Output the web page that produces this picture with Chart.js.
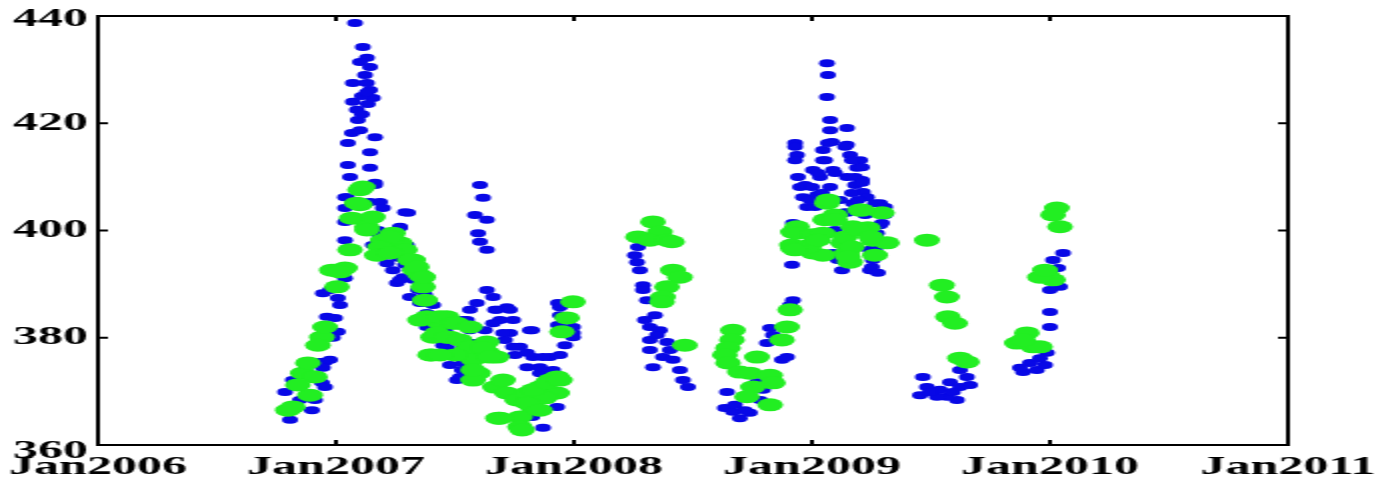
<!DOCTYPE html>
<html>
<head>
<meta charset="utf-8">
<script src="https://cdn.jsdelivr.net/npm/chart.js@4/dist/chart.umd.min.js"></script>
<style>
  html, body { margin: 0; padding: 0; background: #fff; overflow: hidden; }
  /* the figure is laid out at half width and stretched horizontally */
  #stage { width: 689px; height: 482px; transform: scaleX(2); transform-origin: 0 0; }
</style>
</head>
<body>
<div id="stage"><canvas id="c"></canvas></div>
<script>
// axis ticks
const xTickYears = [2006, 2007, 2008, 2009, 2010, 2011];
const yTickValues = [360, 380, 400, 420, 440];

// blue series: time as decimal year, value
const blueYear = [
  2006.807, 2006.786, 2006.819, 2006.933, 2006.954, 2006.945, 2006.899, 2006.941, 2006.954, 2007.017,
  2006.962, 2007.008, 2006.945, 2007.038, 2007.038, 2007.038, 2007.143, 2007.164, 2007.290, 2007.269,
  2006.849, 2006.870, 2006.832, 2006.912, 2006.975, 2006.987, 2006.996, 2007.008, 2006.975, 2007.080,
  2007.113, 2007.130, 2007.101, 2007.143, 2007.122, 2007.071, 2007.130, 2007.143, 2007.155, 2007.071,
  2007.088, 2007.092, 2007.067, 2007.164, 2007.050, 2007.143, 2007.050, 2007.143, 2007.059, 2007.164,
  2007.046, 2007.038, 2007.185, 2007.197, 2007.038, 2007.109, 2007.134, 2007.109, 2007.101, 2007.130,
  2007.214, 2007.239, 2007.282, 2007.256, 2007.324, 2007.311, 2007.366, 2007.408, 2007.382, 2007.450,
  2007.508, 2007.227, 2007.261, 2007.290, 2007.345, 2007.374, 2007.424, 2007.458, 2007.479, 2007.529,
  2007.218, 2007.176, 2007.303, 2007.605, 2007.618, 2007.584, 2007.634, 2007.597, 2007.605, 2007.634,
  2007.634, 2007.660, 2007.592, 2007.718, 2007.689, 2007.744, 2007.815, 2007.731, 2007.773, 2007.828,
  2007.899, 2007.941, 2007.803, 2007.857, 2007.912, 2007.563, 2007.521, 2007.592, 2007.466, 2007.550,
  2007.933, 2007.941, 2007.933, 2007.996, 2007.996, 2007.929, 2007.870, 2007.824, 2007.668, 2007.710,
  2007.752, 2007.626, 2007.563, 2007.878, 2007.962,
  2007.269, 2007.172, 2007.155, 2007.298, 2007.269, 2007.353, 2007.382, 2007.450, 2007.563, 2007.534,
  2007.534, 2007.676, 2007.731, 2007.660, 2007.702, 2007.824, 2007.534, 2007.576, 2007.744, 2007.803,
  2007.870, 2007.857, 2007.912, 2007.534, 2007.941, 2007.824, 2007.996,
  2008.269, 2008.265, 2008.277, 2008.290, 2008.290, 2008.307, 2008.340, 2008.319, 2008.361, 2008.319,
  2008.391, 2008.319, 2008.374, 2008.332, 2008.416, 2008.445, 2008.458, 2008.479, 2008.256, 2008.349,
  2008.298, 2008.403,
  2008.643, 2008.634, 2008.668, 2008.697, 2008.739, 2008.782, 2008.794, 2008.769, 2008.811, 2008.824,
  2008.811, 2008.874, 2008.895, 2008.920, 2008.676, 2008.718, 2008.836, 2008.908,
  2009.063, 2009.067, 2009.063, 2009.076, 2009.076, 2009.147, 2009.084, 2009.147, 2008.929, 2008.937,
  2009.046, 2009.046, 2009.160, 2009.202, 2009.004, 2009.088, 2009.189, 2008.941, 2009.034, 2009.147,
  2009.210, 2008.950, 2009.076, 2009.214, 2008.962, 2009.021, 2009.172, 2009.231, 2009.286, 2008.979,
  2009.147, 2009.286, 2008.920, 2009.273, 2009.088, 2009.126, 2009.244, 2009.256, 2008.916, 2008.992,
  2008.971, 2009.181, 2009.118, 2009.223, 2009.244, 2009.151, 2008.929, 2009.042, 2009.307,
  2008.929, 2008.929, 2009.067, 2009.139, 2009.055, 2009.168, 2009.210, 2009.025, 2009.097, 2009.181,
  2009.000, 2009.210, 2009.042, 2009.168, 2009.013, 2009.193, 2009.265, 2009.139, 2009.307, 2009.097,
  2009.265, 2009.294, 2009.109, 2009.252, 2009.277,
  2009.466, 2009.483, 2009.538, 2009.580, 2009.622, 2009.651, 2009.609, 2009.567, 2009.622, 2009.525,
  2009.454, 2009.496, 2009.592, 2009.664,
  2010.055, 2010.013, 2010.042, 2010.000, 2010.000, 2009.987, 2009.916, 2009.887, 2009.945, 2010.000,
  2009.979, 2010.034, 2009.874, 2009.958
];
const blueValue = [
  364.7, 369.9, 372.1, 375.5, 375.5, 374.4, 366.5, 371.6, 370.8, 386.1,
  383.9, 381.1, 388.3, 391.1, 398.2, 406.2, 405.3, 408.5, 403.4, 400.5,
  368.4, 374.0, 367.1, 368.4, 375.9, 380.0, 383.7, 387.4, 388.9, 438.7,
  434.2, 432.2, 431.4, 430.5, 429.0, 427.5, 427.5, 426.2, 424.7, 424.0,
  422.5, 420.6, 418.2, 417.4, 416.3, 414.6, 412.2, 411.7, 410.0, 408.9,
  406.2, 404.2, 405.3, 404.2, 401.6, 425.1, 423.6, 421.7, 418.7, 425.8,
  393.9, 392.6, 391.3, 390.2, 390.8, 387.6, 386.5, 386.1, 382.0, 378.6,
  372.1, 396.4, 394.9, 393.6, 388.9, 388.0, 384.2, 381.4, 374.9, 374.0,
  398.2, 400.1, 403.3, 408.5, 406.1, 402.9, 402.0, 399.5, 397.9, 396.4,
  388.9, 387.6, 386.5, 385.7, 383.3, 383.3, 381.4, 380.9, 378.3, 376.4,
  376.4, 376.8, 374.5, 373.4, 373.4, 375.9, 372.7, 378.3, 378.1, 383.3,
  386.5, 384.2, 382.4, 380.9, 382.0, 367.1, 363.2, 365.2, 385.2, 379.6,
  376.8, 381.4, 381.4, 371.2, 378.6,
  400.7, 399.5, 397.3, 397.3, 390.8, 386.5, 384.6, 382.7, 385.2, 378.3,
  375.3, 385.2, 385.2, 382.7, 380.9, 381.4, 383.3, 379.0, 378.3, 377.2,
  376.4, 374.5, 374.0, 372.7, 385.7, 366.0, 380.1,
  396.9, 394.1, 392.6, 389.8, 388.9, 387.0, 384.2, 382.0, 381.4, 379.6,
  379.2, 377.7, 376.4, 374.5, 375.9, 374.0, 372.1, 370.8, 395.4, 380.5,
  383.3, 377.7,
  369.9, 366.9, 366.2, 365.0, 366.0, 368.4, 370.3, 371.7, 372.7, 381.8,
  379.0, 375.9, 376.4, 387.0, 367.5, 366.5, 380.5, 386.1,
  431.2, 429.0, 424.9, 420.6, 418.7, 419.1, 416.5, 416.0, 416.3, 414.1,
  415.0, 413.1, 414.1, 413.1, 411.3, 411.3, 411.7, 410.0, 410.0, 410.0,
  409.4, 408.1, 408.1, 407.2, 406.2, 406.6, 405.1, 406.2, 405.1, 404.4,
  403.3, 401.0, 401.4, 399.5, 395.8, 392.6, 392.6, 394.5, 393.6, 405.7,
  408.5, 408.5, 405.7, 402.9, 396.4, 394.1, 399.2, 405.7, 402.9,
  415.6, 413.1, 416.3, 415.6, 413.1, 413.1, 411.8, 410.7, 410.7, 410.0,
  408.1, 408.9, 407.0, 407.0, 404.4, 405.7, 405.1, 403.4, 404.4, 400.1,
  396.4, 401.4, 394.5, 393.2, 392.1,
  372.7, 370.8, 370.3, 371.7, 370.8, 372.7, 368.4, 369.0, 374.0, 369.0,
  369.3, 369.9, 369.9, 371.2,
  395.8, 394.5, 389.5, 384.8, 382.0, 377.2, 375.3, 373.6, 374.0, 388.9,
  374.9, 393.0, 374.4, 376.2
];

// green series: time as decimal year, value
const greenYear = [
  2006.798, 2006.819, 2006.891, 2006.861, 2006.882, 2006.912, 2006.941, 2006.954, 2007.004, 2006.983,
  2007.038, 2007.059, 2007.067, 2007.101, 2007.101, 2007.130, 2007.155, 2007.197, 2007.235, 2007.239,
  2007.269, 2007.324, 2007.353, 2007.366, 2007.382, 2007.408, 2007.437, 2007.403, 2007.466, 2007.113,
  2007.088, 2007.130, 2007.227, 2006.840, 2006.924, 2007.017, 2007.290, 2007.332, 2007.374, 2007.353,
  2007.227, 2007.185, 2007.172, 2007.227, 2007.311, 2007.340, 2007.366, 2007.437, 2007.492, 2007.424,
  2007.479, 2007.550, 2007.395, 2007.576,
  2007.508, 2007.563, 2007.466, 2007.521, 2007.563, 2007.634, 2007.639, 2007.676, 2007.597, 2007.576,
  2007.668, 2007.718, 2007.761, 2007.803, 2007.857, 2007.899, 2007.929, 2007.929, 2007.828, 2007.773,
  2007.681, 2007.773, 2007.996, 2007.971, 2007.950, 2007.878, 2007.500, 2007.437,
  2007.618, 2007.647, 2007.576, 2007.702, 2007.828, 2007.887, 2007.941, 2007.803, 2007.857, 2007.689,
  2007.782,
  2008.332, 2008.361, 2008.269, 2008.319, 2008.391, 2008.412, 2008.416, 2008.445, 2008.391, 2008.374,
  2008.370, 2008.466,
  2008.668, 2008.664, 2008.647, 2008.634, 2008.647, 2008.697, 2008.739, 2008.769, 2008.824, 2008.836,
  2008.752, 2008.727, 2008.824, 2008.874, 2008.895, 2008.908, 2008.916, 2008.920,
  2009.063, 2009.055, 2009.202, 2009.294, 2008.937, 2008.937, 2009.004, 2009.046, 2009.172, 2009.235,
  2008.920, 2008.992, 2009.004, 2009.130, 2009.147, 2009.160, 2009.256, 2009.265, 2009.315, 2009.046,
  2009.097, 2009.067, 2009.097, 2009.210, 2008.983, 2009.025, 2009.139, 2009.193, 2009.168, 2009.151,
  2009.248, 2008.929,
  2009.483, 2009.546, 2009.567, 2009.571, 2009.601, 2009.622, 2009.651,
  2010.029, 2010.013, 2010.042, 2009.987, 2010.013, 2009.958, 2009.903, 2009.861, 2009.929, 2009.958,
  2009.887, 2009.979
];
const greenValue = [
  366.5, 367.1, 369.3, 373.4, 375.3, 372.7, 380.1, 382.0, 389.5, 392.6,
  393.0, 396.4, 402.3, 404.8, 407.6, 400.7, 402.5, 398.2, 396.9, 399.5,
  397.7, 394.5, 391.7, 389.5, 383.9, 380.1, 382.7, 376.8, 383.9, 408.1,
  405.1, 400.1, 397.7, 371.2, 378.6, 392.3, 396.4, 392.6, 387.0, 383.3,
  398.8, 396.9, 395.4, 395.8, 394.5, 393.2, 391.3, 383.9, 382.7, 380.9,
  380.1, 377.7, 376.8, 375.9,
  382.7, 382.0, 380.1, 379.6, 378.3, 379.2, 377.2, 376.4, 373.4, 372.1,
  370.8, 369.7, 368.4, 369.7, 370.8, 372.1, 372.7, 369.7, 366.9, 365.2,
  365.0, 363.4, 386.7, 383.7, 381.1, 368.8, 376.8, 376.8,
  378.1, 376.4, 374.0, 372.1, 370.3, 371.6, 372.1, 367.8, 366.5, 365.0,
  362.8,
  401.6, 399.7, 398.8, 398.2, 398.2, 397.9, 392.6, 391.3, 389.5, 387.6,
  386.7, 378.6,
  381.4, 379.6, 378.1, 376.8, 375.3, 373.6, 373.4, 376.4, 373.0, 371.6,
  370.8, 369.0, 367.5, 379.6, 382.0, 385.2, 397.3, 399.7,
  405.1, 402.0, 403.8, 403.3, 400.7, 399.5, 399.2, 399.5, 400.7, 400.5,
  396.7, 397.3, 395.8, 397.7, 395.8, 394.1, 398.2, 395.4, 397.7, 395.4,
  402.9, 405.7, 402.0, 403.8, 396.9, 398.2, 398.8, 400.1, 396.9, 395.1,
  398.8, 396.4,
  398.2, 389.8, 387.6, 383.9, 382.7, 376.2, 375.5,
  404.2, 402.9, 400.7, 391.7, 390.8, 391.3, 380.9, 379.0, 378.3, 378.3,
  379.6, 392.6
];

const toPoints = (xs, ys) => xs.map((x, i) => ({ x: x, y: ys[i] }));

const labelFont = "bold 25px 'Liberation Serif', 'Times New Roman', serif";

// box frame with short inward tick marks on all four sides, plus the tick labels
const boxFrame = {
  id: 'boxFrame',
  afterDraw(chart) {
    const { ctx, chartArea: a, scales } = chart;
    const len = 5;
    ctx.save();
    ctx.strokeStyle = '#000';
    ctx.lineWidth = 2;
    ctx.strokeRect(a.left, a.top, a.right - a.left, a.bottom - a.top);
    ctx.beginPath();
    scales.x.ticks.forEach(t => {
      const px = scales.x.getPixelForValue(t.value);
      ctx.moveTo(px, a.bottom); ctx.lineTo(px, a.bottom - len);
      ctx.moveTo(px, a.top); ctx.lineTo(px, a.top + len);
    });
    scales.y.ticks.forEach(t => {
      const py = scales.y.getPixelForValue(t.value);
      ctx.moveTo(a.left, py); ctx.lineTo(a.left + len, py);
      ctx.moveTo(a.right, py); ctx.lineTo(a.right - len, py);
    });
    ctx.stroke();

    ctx.fillStyle = '#000';
    ctx.font = labelFont;
    ctx.textBaseline = 'middle';
    ctx.textAlign = 'right';
    const yt = scales.y.ticks;
    yt.forEach((t, i) => {
      let py = scales.y.getPixelForValue(t.value);
      if (i === 0) py += 7;               // lowest label sits a little below its tick
      if (i === yt.length - 1) py += 4;   // highest label nudged down inside the canvas
      ctx.fillText(String(t.value), a.left - 5, py);
    });
    ctx.textAlign = 'center';
    scales.x.ticks.forEach(t => {
      const px = scales.x.getPixelForValue(t.value);
      ctx.fillText('Jan' + t.value, px, a.bottom + 23);
    });
    ctx.restore();
  }
};

function draw() {
  new Chart(document.getElementById('c'), {
    type: 'scatter',
    data: {
      datasets: [
        {
          label: 'green',
          data: toPoints(greenYear, greenValue),
          backgroundColor: '#22ee22',
          borderWidth: 0,
          pointRadius: 6.5,
          pointHoverRadius: 6.5
        },
        {
          label: 'blue',
          data: toPoints(blueYear, blueValue),
          backgroundColor: '#0808e6',
          borderWidth: 0,
          pointRadius: 4,
          pointHoverRadius: 4
        }
      ]
    },
    options: {
      responsive: true,
      maintainAspectRatio: false,
      animation: false,
      devicePixelRatio: 1,
      layout: { padding: { left: 0, right: 45, top: 16, bottom: 0 } },
      plugins: { legend: { display: false }, tooltip: { enabled: false } },
      scales: {
        x: {
          type: 'linear',
          min: 2006,
          max: 2011,
          afterBuildTicks: s => { s.ticks = xTickYears.map(v => ({ value: v })); },
          afterFit: s => { s.height = 37; s.paddingLeft = 0; s.paddingRight = 0; },
          grid: { display: false, drawTicks: false },
          border: { display: false },
          ticks: { display: false }
        },
        y: {
          min: 360,
          max: 440,
          afterBuildTicks: s => { s.ticks = yTickValues.map(v => ({ value: v })); },
          afterFit: s => { s.width = 49; s.paddingTop = 0; s.paddingBottom = 0; },
          grid: { display: false, drawTicks: false },
          border: { display: false },
          ticks: { display: false }
        }
      }
    },
    plugins: [boxFrame]
  });
}

const fontReady = document.fonts && document.fonts.load
  ? document.fonts.load(labelFont).catch(() => {})
  : Promise.resolve();
fontReady.then(draw);
</script>
</body>
</html>
